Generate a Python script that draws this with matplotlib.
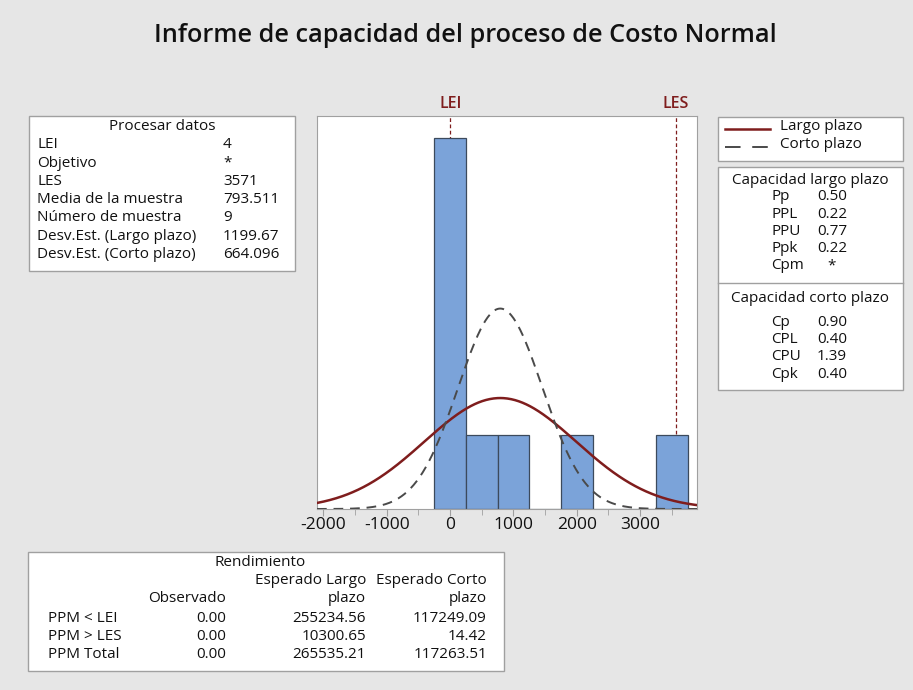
import numpy as np
import matplotlib
matplotlib.use('Agg')
import matplotlib.pyplot as plt
from matplotlib.patches import Rectangle
from matplotlib.lines import Line2D

plt.rcParams['font.family'] = ['Open Sans', 'DejaVu Sans']

# datos del informe
lei = 4
les = 3571
media = 793.511
n = 9
sd_largo = 1199.67
sd_corto = 664.096

centros = [0, 500, 1000, 1500, 2000, 2500, 3000, 3500]
conteos = [5, 1, 1, 0, 1, 0, 0, 1]
ancho_bin = 500

proc_etiquetas = ['LEI', 'Objetivo', 'LES', 'Media de la muestra', 'Número de muestra',
                  'Desv.Est. (Largo plazo)', 'Desv.Est. (Corto plazo)']
proc_valores = ['4', '*', '3571', '793.511', '9', '1199.67', '664.096']

cap_largo_et = ['Pp', 'PPL', 'PPU', 'Ppk', 'Cpm']
cap_largo_val = ['0.50', '0.22', '0.77', '0.22', '*']
cap_corto_et = ['Cp', 'CPL', 'CPU', 'Cpk']
cap_corto_val = ['0.90', '0.40', '1.39', '0.40']

rend_filas = ['PPM < LEI', 'PPM > LES', 'PPM Total']
rend_obs = ['0.00', '0.00', '0.00']
rend_largo = ['255234.56', '10300.65', '265535.21']
rend_corto = ['117249.09', '14.42', '117263.51']

ticks_x = [-2000, -1000, 0, 1000, 2000, 3000]

W, H = 913, 690
fondo = '#e6e6e6'
rojo = '#7f1d1d'
gris = '#4a4a4a'
azul = '#7ba3d9'
fs = 11

fig = plt.figure(figsize=(W / 100, H / 100), dpi=100, facecolor=fondo)


def fx(x):
    return x / W


def fy(y):
    return 1 - y / H


def txt(x, y, s, ha='left', **kw):
    fig.text(fx(x), fy(y), s, ha=ha, va='center', fontsize=kw.pop('size', fs),
             color=kw.pop('color', '#111111'), fontweight=kw.pop('fontweight', 'medium'), **kw)


def caja(x0, y0, x1, y1):
    fig.patches.append(Rectangle((fx(x0), fy(y1)), fx(x1 - x0), (y1 - y0) / H,
                                 transform=fig.transFigure, facecolor='white',
                                 edgecolor='#a0a0a0', linewidth=1.0))


txt(465, 35, 'Informe de capacidad del proceso de Costo Normal', ha='center',
    size=18.2, fontweight='semibold')

# grafico principal
ax = fig.add_axes([fx(317), fy(509), fx(697 - 317), (509 - 116) / H])
ax.bar(centros, conteos, width=ancho_bin, color=azul, edgecolor='#3c4a5c', linewidth=0.9, zorder=2)
xs = np.linspace(-2100, 3900, 500)
escala = n * ancho_bin
y_largo = escala / (sd_largo * np.sqrt(2 * np.pi)) * np.exp(-0.5 * ((xs - media) / sd_largo) ** 2)
y_corto = escala / (sd_corto * np.sqrt(2 * np.pi)) * np.exp(-0.5 * ((xs - media) / sd_corto) ** 2)
ax.plot(xs, y_largo, color=rojo, lw=1.8, zorder=3)
ax.plot(xs, y_corto, color=gris, lw=1.4, ls=(0, (5, 3.5)), zorder=3)
ax.axvline(lei, color=rojo, lw=0.9, ls=(0, (3, 2)), zorder=1)
ax.axvline(les, color=rojo, lw=0.9, ls=(0, (3, 2)), zorder=1)
ax.set_xlim(-2100, 3900)
ax.set_ylim(0, 5.3)
ax.set_yticks([])
ax.set_xticks(ticks_x)
ax.set_xticklabels([str(t) for t in ticks_x], fontweight='medium')
ax.set_xticks(np.arange(-1500, 3900, 1000), minor=True)
ax.tick_params(axis='x', which='both', direction='out', color='#a0a0a0', labelsize=12.5,
               labelcolor='#111111', pad=1)
ax.tick_params(axis='x', which='major', length=5)
ax.tick_params(axis='x', which='minor', length=4)
for s in ax.spines.values():
    s.set_color('#a0a0a0')
ax.text(lei, 1.01, 'LEI', transform=ax.get_xaxis_transform(), ha='center', va='bottom',
        color=rojo, fontsize=11.5, fontweight='semibold')
ax.text(les, 1.01, 'LES', transform=ax.get_xaxis_transform(), ha='center', va='bottom',
        color=rojo, fontsize=11.5, fontweight='semibold')

# datos del proceso
caja(29, 116, 295, 271)
txt(162, 127, 'Procesar datos', ha='center')
for i, (e, v) in enumerate(zip(proc_etiquetas, proc_valores)):
    y = 145 + i * 18.2
    txt(37, y, e)
    txt(223, y, v)

# leyenda
caja(718, 117, 903, 161)
fig.lines.append(Line2D([fx(725), fx(770)], [fy(129), fy(129)], transform=fig.transFigure,
                        color=rojo, lw=1.8))
fig.lines.append(Line2D([fx(725), fx(770)], [fy(147), fy(147)], transform=fig.transFigure,
                        color=gris, lw=1.4, ls=(0, (8, 6))))
txt(780, 127, 'Largo plazo')
txt(780, 145, 'Corto plazo')

# capacidad
caja(718, 167, 903, 390)
txt(810, 180, 'Capacidad largo plazo', ha='center')
for i, (e, v) in enumerate(zip(cap_largo_et, cap_largo_val)):
    y = 197 + i * 17.2
    txt(771, y, e)
    txt(832, y, v, ha='center')
fig.lines.append(Line2D([fx(718), fx(903)], [fy(283), fy(283)], transform=fig.transFigure,
                        color='#a0a0a0', lw=1.0))
txt(810, 298, 'Capacidad corto plazo', ha='center')
for i, (e, v) in enumerate(zip(cap_corto_et, cap_corto_val)):
    y = 322 + i * 17.5
    txt(771, y, e)
    txt(832, y, v, ha='center')

# rendimiento
caja(28, 552, 504, 671)
txt(260, 562, 'Rendimiento', ha='center')
txt(366, 580, 'Esperado Largo', ha='right')
txt(487, 580, 'Esperado Corto', ha='right')
txt(226, 599, 'Observado', ha='right')
txt(366, 599, 'plazo', ha='right')
txt(487, 599, 'plazo', ha='right')
for i in range(len(rend_filas)):
    y = 618 + i * 18.5
    txt(48, y, rend_filas[i])
    txt(226, y, rend_obs[i], ha='right')
    txt(366, y, rend_largo[i], ha='right')
    txt(487, y, rend_corto[i], ha='right')

fig.savefig('out.png', dpi=100, facecolor=fondo)
